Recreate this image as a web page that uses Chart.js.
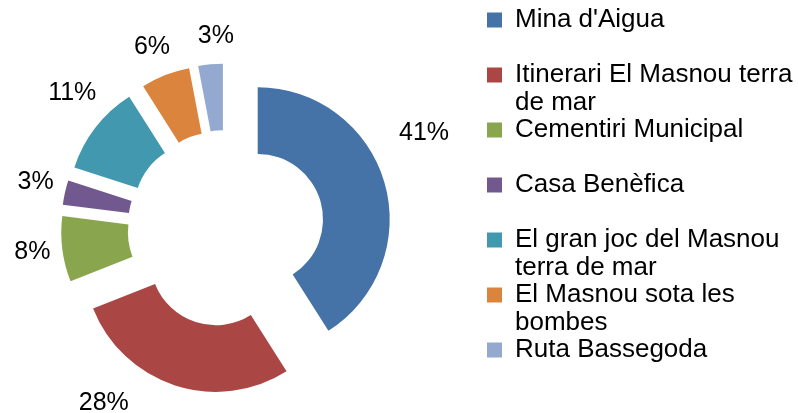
<!DOCTYPE html>
<html>
<head>
<meta charset="utf-8">
<script src="https://cdn.jsdelivr.net/npm/chart.js@4.4.0/dist/chart.umd.min.js"></script>
<style>
  html, body { margin: 0; padding: 0; background: #fff; }
  #wrap { width: 798px; height: 413px; }
</style>
</head>
<body>
<div id="wrap"><canvas id="chart"></canvas></div>
<script>
// data
const categories = [
  "Mina d'Aigua",
  "Itinerari El Masnou terra de mar",
  "Cementiri Municipal",
  "Casa Benèfica",
  "El gran joc del Masnou terra de mar",
  "El Masnou sota les bombes",
  "Ruta Bassegoda"
];
const shares = [41, 28, 8, 3, 11, 6, 3];
const colors = ['#4572A7', '#AA4643', '#89A54E', '#71588F', '#4198AF', '#DB843D', '#93A9CF'];

// look
const FONT = "'Liberation Sans', Arial, sans-serif";
const EXPLODE = 33;        // px every slice is pulled out
const LABEL_GAP = 30;      // label distance beyond the slice edge
const labelNudge = [[-9.6, 25], [17, 18], [0.3, 0], [1.2, 1], [3.6, 10], [-0.6, 1], [2.4, -2]]; // [deg, px]
const LEGEND_WRAP = 288;

function wrapText(ctx, text, maxW) {
  const words = text.split(' ');
  const lines = [];
  let cur = '';
  words.forEach(w => {
    const test = cur ? cur + ' ' + w : w;
    if (cur && ctx.measureText(test).width > maxW) {
      lines.push(cur);
      cur = w;
    } else {
      cur = test;
    }
  });
  if (cur) lines.push(cur);
  return lines;
}

// empty layout boxes so the doughnut sits where Excel put it
const spacers = {
  id: 'spacers',
  beforeInit(chart) {
    Chart.layouts.addBox(chart, {
      position: 'top', weight: 0, fullSize: false, options: {},
      isHorizontal() { return true; },
      update(w) { this.width = w; this.height = 37; },
      draw() {}
    });
    Chart.layouts.addBox(chart, {
      position: 'right', weight: 500, fullSize: false, options: {},
      isHorizontal() { return false; },
      update(w, h) { this.width = 35; this.height = h; },
      draw() {}
    });
  }
};

// pull each slice straight out along its middle angle
const explode = {
  id: 'explode',
  beforeDatasetDraw(chart, args) {
    const ctx = chart.ctx;
    args.meta.data.forEach(arc => {
      const mid = (arc.startAngle + arc.endAngle) / 2;
      ctx.save();
      ctx.translate(Math.cos(mid) * EXPLODE, Math.sin(mid) * EXPLODE);
      arc.draw(ctx);
      ctx.restore();
    });
    return false;
  }
};

const pctLabels = {
  id: 'pctLabels',
  afterDatasetsDraw(chart) {
    const ctx = chart.ctx;
    const meta = chart.getDatasetMeta(0);
    ctx.save();
    ctx.font = '25px ' + FONT;
    ctx.fillStyle = '#000';
    ctx.textAlign = 'center';
    ctx.textBaseline = 'middle';
    meta.data.forEach((arc, i) => {
      const nudge = labelNudge[i];
      const a = (arc.startAngle + arc.endAngle) / 2 + nudge[0] * Math.PI / 180;
      const r = arc.outerRadius + EXPLODE + LABEL_GAP + nudge[1];
      ctx.fillText(shares[i] + '%', arc.x + Math.cos(a) * r, arc.y + Math.sin(a) * r);
    });
    ctx.restore();
  }
};

const ctx = document.getElementById('chart').getContext('2d');
new Chart(ctx, {
  type: 'doughnut',
  data: {
    labels: categories,
    datasets: [{
      data: shares,
      backgroundColor: colors,
      borderWidth: 0,
      hoverOffset: 0
    }]
  },
  options: {
    responsive: true,
    maintainAspectRatio: false,
    animation: false,
    events: [],
    radius: 132,
    cutout: '49.5%',
    layout: { padding: { top: 7 } },
    plugins: {
      tooltip: { enabled: false },
      legend: {
        position: 'right',
        align: 'start',
        maxWidth: 311,
        labels: {
          boxWidth: 15,
          boxHeight: 15,
          padding: 0,
          color: '#000',
          font: { family: FONT, size: 26, lineHeight: 27.5 / 26 },
          generateLabels(chart) {
            const c = chart.ctx;
            c.save();
            c.font = '26px ' + FONT;
            const items = categories.map((name, i) => {
              const lines = wrapText(c, name, LEGEND_WRAP);
              while (lines.length < 2) lines.push('');
              return {
                text: lines,
                fillStyle: colors[i],
                strokeStyle: colors[i],
                lineWidth: 0,
                fontColor: '#000',
                hidden: false,
                index: i
              };
            });
            c.restore();
            return items;
          }
        }
      }
    }
  },
  plugins: [spacers, explode, pctLabels]
});
</script>
</body>
</html>
